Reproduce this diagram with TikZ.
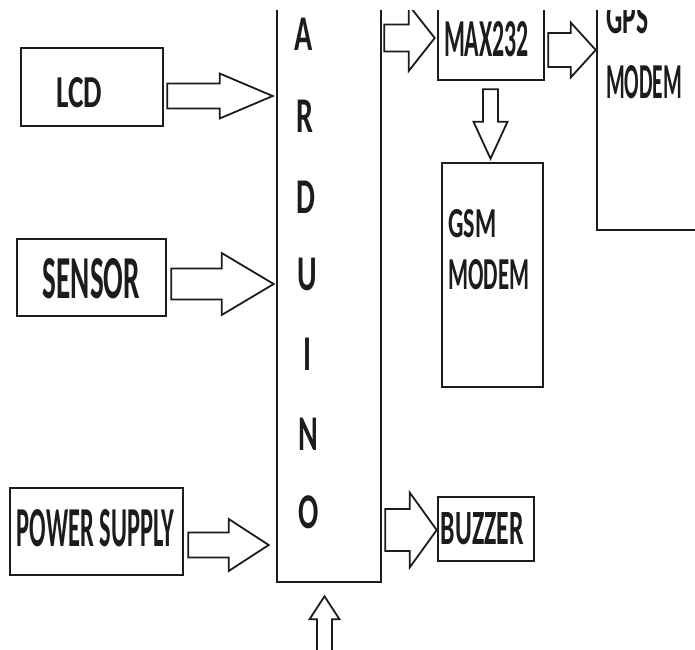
\documentclass[tikz,border=0pt]{standalone}
\usepackage{fontspec}
\usetikzlibrary{calc}
\newfontfamily\cf{Carlito}
\definecolor{ink}{HTML}{1C1C1C}
\newcommand\fitt[3]{\resizebox{#1pt}{#2pt}{\cf\bfseries #3}}
\newcommand\ardl[1]{\scalebox{0.6}[1]{\fontsize{50}{50}\selectfont\cf\bfseries #1}}
% right-pointing block arrow: start (x used), tip (x,y), shaft half, head half, head length
\newcommand\rarr[5]{\draw[blkarrow] let \p1=#1, \p2=#2 in
  (\x1,\y2+#3) -- (\x2-#5,\y2+#3) -- (\x2-#5,\y2+#4) -- (\x2,\y2) --
  (\x2-#5,\y2-#4) -- (\x2-#5,\y2-#3) -- (\x1,\y2-#3) -- cycle;}
% down-pointing block arrow
\newcommand\darr[5]{\draw[blkarrow] let \p1=#1, \p2=#2 in
  (\x2-#3,\y1) -- (\x2-#3,\y2+#5) -- (\x2-#4,\y2+#5) -- (\x2,\y2) --
  (\x2+#4,\y2+#5) -- (\x2+#3,\y2+#5) -- (\x2+#3,\y1) -- cycle;}
% up-pointing block arrow
\newcommand\uarr[5]{\draw[blkarrow] let \p1=#1, \p2=#2 in
  (\x2-#3,\y1) -- (\x2-#3,\y2-#5) -- (\x2-#4,\y2-#5) -- (\x2,\y2) --
  (\x2+#4,\y2-#5) -- (\x2+#3,\y2-#5) -- (\x2+#3,\y1) -- cycle;}
\begin{document}
\begin{tikzpicture}[x=1pt,y=-1pt,
  box/.style n args={2}{draw=ink, line width=2.6pt, fill=white, inner sep=0pt,
    minimum width=#1pt, minimum height=#2pt},
  txt/.style={inner sep=0pt, text=ink},
  blkarrow/.style={draw=ink, line width=1.8pt, line join=miter, fill=white}]
\useasboundingbox[fill=white] (0,0) rectangle (695,649);
\begin{scope}
\clip (0,10) rectangle (695,649);
% boxes
\node[box={142}{78}] (lcd) at (92,87) {};
\node[box={149}{77}] (sensor) at (91.5,277.5) {};
\node[box={173}{87}] (power) at (96.5,531.5) {};
\node[box={104}{602}] (ard) at (329,281) {};
\node[box={106}{100}] (max) at (491,30) {};
\node[box={162}{250}] (gps) at (678,105) {};
\node[box={101}{224}] (gsm) at (492.5,275) {};
\node[box={96}{64}] (buzzer) at (486,529) {};
\coordinate (pwrin) at (324.5,665);
% texts
\node[txt] (tlcd) at (79,93) {\fitt{46}{30}{LCD}};
\node[txt] (tsensor) at (91.5,278.5) {\fitt{97}{40}{SENSOR}};
\node[txt] (tpower) at (95.5,528.5) {\fitt{157}{37}{POWER SUPPLY}};
\node[txt] (tmax) at (486.5,39.5) {\fitt{85}{35}{MAX232}};
\node[txt] (tgps) at (627.5,17) {\fitt{42}{33}{GPS}};
\node[txt] (tgpsm) at (644,82.5) {\fitt{76}{33}{MODEM}};
\node[txt] (tgsm) at (472.5,223.5) {\fitt{48}{28}{GSM}};
\node[txt] (tgsmm) at (489,275) {\fitt{81}{30}{MODEM}};
\node[txt] (tbuz) at (482.5,529) {\fitt{83}{32}{BUZZER}};
\node[txt] (a1) at (304,34) {\ardl{A}};
\node[txt] (a2) at (305,116) {\ardl{R}};
\node[txt] (a3) at (306,197) {\ardl{D}};
\node[txt] (a4) at (307,274) {\ardl{U}};
\node[txt] (a5) at (307,354) {\ardl{I}};
\node[txt] (a6) at (308,434) {\ardl{N}};
\node[txt] (a7) at (309,512) {\ardl{O}};
% block arrows
\rarr{($(lcd.east)+(3,0)$)}{($(ard.west|-0,96)+(-3,0)$)}{12.5}{22.5}{53}
\rarr{($(sensor.east)+(4,0)$)}{($(ard.west|-0,284)+(-2,0)$)}{15.5}{31}{52}
\rarr{($(power.east)+(4,0)$)}{($(ard.west|-0,545)+(-7,0)$)}{12.5}{26}{40}
\rarr{($(ard.east)+(2,0)$)}{($(max.west|-0,38)+(-2,0)$)}{13.5}{33}{26}
\rarr{($(max.east)+(3,0)$)}{(gps.west|-0,50)}{17}{27.5}{25}
\rarr{($(ard.east)+(3,0)$)}{(buzzer.west|-0,530)}{21}{37.5}{27}
\darr{($(max.south)+(0,8)$)}{($(gsm.north)+(-2,-3)$)}{7.5}{17}{37}
\uarr{(pwrin)}{($(ard.south)+(-4.5,13)$)}{7.5}{15}{23}
\end{scope}
\end{tikzpicture}
\end{document}
